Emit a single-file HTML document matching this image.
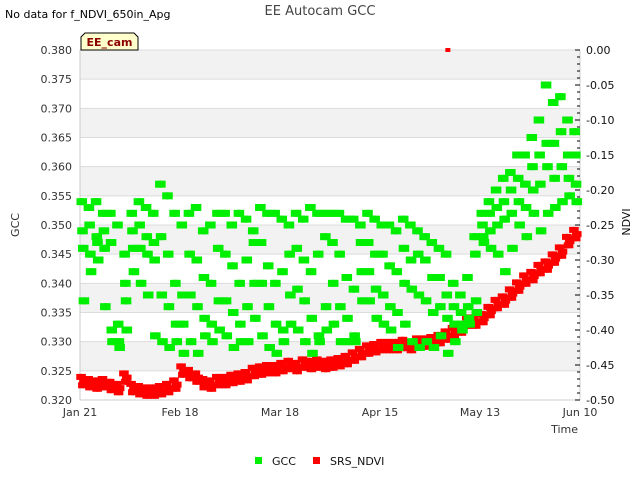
<!DOCTYPE html>
<html><head><meta charset="utf-8"><style>
body{margin:0;background:#fff;font-family:"Liberation Sans","DejaVu Sans",sans-serif;}
svg text{font-family:"DejaVu Sans","Liberation Sans",sans-serif;}
</style></head><body>
<svg id="c" width="640" height="480" xmlns="http://www.w3.org/2000/svg"></svg>
<script>
// data (2-day bins starting Jan 21)
const gccHi=[354,353,354,352,352,350,345,352,354,353,352,357,355,352,350,352,353,349,350,352,352,350,352,351,349,353,352,352,351,350,352,351,353,352,352,352,352,351,351,350,352,351,350,350,349,351,350,349,348,347,346,345,340,338,341,348,352,354,356,358,359,362,362,365,368,374,371,372,368,366];
const gccM1=[349,350,348,349,347,333,340,349,350,348,347,348,345,340,338,345,344,341,340,346,345,343,340,344,347,347,343,340,342,345,346,344,342,345,348,347,345,341,339,347,347,345,345,343,342,346,344,345,344,341,341,338,336,335,336,345,350,352,353,354,356,358,357,360,362,364,364,366,362,362];
const gccM2=[346,345,347,346,332,330,337,346,346,345,344,338,336,333,333,338,336,334,333,337,337,335,333,336,340,340,336,333,332,338,339,337,334,331,336,340,336,334,331,342,342,339,338,336,335,340,339,338,337,335,336,334,333,333,334,337,348,349,350,351,352,354,353,356,357,360,358,360,358,357];
const gccLo=[337,342,344,336,330,329,332,342,340,338,331,330,329,330,328,330,328,331,330,332,331,329,330,330,334,331,329,328,330,333,332,330,328,330,332,333,330,330,330,337,337,334,333,332,329,333,330,329,330,329,331,328,330,332,333,335,347,346,345,342,346,350,348,352,349,352,353,354,355,354];
const ndvi=[-0.475,-0.478,-0.48,-0.478,-0.482,-0.485,-0.47,-0.485,-0.488,-0.49,-0.49,-0.488,-0.485,-0.48,-0.46,-0.465,-0.47,-0.478,-0.48,-0.475,-0.475,-0.472,-0.47,-0.468,-0.462,-0.46,-0.458,-0.458,-0.455,-0.452,-0.455,-0.45,-0.452,-0.45,-0.452,-0.45,-0.448,-0.445,-0.44,-0.435,-0.43,-0.428,-0.425,-0.425,-0.425,-0.422,-0.425,-0.42,-0.42,-0.418,-0.415,-0.41,-0.405,-0.4,-0.39,-0.39,-0.385,-0.375,-0.365,-0.36,-0.35,-0.34,-0.33,-0.325,-0.315,-0.31,-0.3,-0.29,-0.275,-0.265];
const ndviOutDay=[103];const ndviOutVal=[0.0];
const xTickLabels=["Jan 21","Feb 18","Mar 18","Apr 15","May 13","Jun 10"];
const xTickDays=[0,28,56,84,112,140];
const yLeftTicks=[0.320,0.325,0.330,0.335,0.340,0.345,0.350,0.355,0.360,0.365,0.370,0.375,0.380];
const yRightTicks=[0,-0.05,-0.1,-0.15,-0.2,-0.25,-0.3,-0.35,-0.4,-0.45,-0.5];

const L=80,R=580,T=50,B=400;
const X=d=>L+d/140*(R-L);
const YL=v=>B-(v-0.32)/0.06*(B-T);
const YR=v=>B-(v+0.5)/0.5*(B-T);
const svg=document.getElementById('c');const NS='http://www.w3.org/2000/svg';
function add(tag,attrs,txt){const e=document.createElementNS(NS,tag);for(const k in attrs)e.setAttribute(k,attrs[k]);if(txt!==undefined)e.textContent=txt;svg.appendChild(e);return e;}
let e;
e=add('rect',{x:L,y:T,width:R-L,height:B-T,fill:'#fff'});


for(let i=0;i<6;i++){const v=0.33+i*0.01;
 e=add('rect',{x:L,y:YL(v),width:R-L,height:YL(v-0.005)-YL(v),fill:'#f2f2f2'});
 
 }
yLeftTicks.forEach(v=>{e=add('line',{x1:L,x2:R,y1:YL(v),y2:YL(v),stroke:'#dcdcdc','stroke-width':1});
 
 
 e=add('text',{x:72,y:YL(v)+4,'text-anchor':'end','font-size':11,fill:'#333'},v.toFixed(3));
 
 });
e=add('line',{x1:L,x2:L,y1:T,y2:B,stroke:'#ccc'});


e=add('line',{x1:L,x2:R,y1:B,y2:B,stroke:'#ccc'});


e=add('line',{x1:R,x2:R,y1:T,y2:B,stroke:'#ccc'});


for(let i=0;i<=50;i++){const v=-i*0.01;const maj=i%5===0;
 e=add('line',{x1:maj?R-5:R-3,x2:R,y1:YR(v),y2:YR(v),stroke:'#000'});
 
 }
yRightTicks.forEach(v=>{e=add('text',{x:586,y:YR(v)+4,'font-size':11,fill:'#111'},v.toFixed(2));
 
 });
xTickDays.forEach((d,i)=>{e=add('text',{x:X(d),y:416,'text-anchor':'middle','font-size':11,fill:'#333'},xTickLabels[i]);
 
 });
// NDVI points (each bin covers two days)
ndvi.forEach((v,i)=>{[0,1].forEach(dd=>{[[-0.2,0.008],[0.3,-0.004],[0.6,0.002]].forEach(o=>{
 e=add('rect',{x:X(2*i+dd+o[0])-3,y:YR(v+o[1])-3,width:6,height:6,fill:'#ff0000'});
 
 });});});
ndviOutDay.forEach((d,i)=>{e=add('rect',{x:X(d)-2.5,y:YR(ndviOutVal[i])-2,width:5,height:4,fill:'#ff0000'});
 
 });
// GCC points (each bin covers two days)
[gccHi,gccM1,gccM2,gccLo].forEach((arr,k)=>{arr.forEach((v,i)=>{[0,1].forEach(dd=>{
 e=add('rect',{x:X(2*i+dd+k*0.2)-3.5,y:YL(v/1000)-3.5,width:7,height:7,fill:'#00ee00'});
 
 });});});
// titles
e=add('text',{x:320,y:15,'text-anchor':'middle','font-size':13,fill:'#444'},'EE Autocam GCC');


e=add('text',{x:5,y:18,'font-size':11,fill:'#000'},'No data for f_NDVI_650in_Apg');


e=add('text',{x:578,y:433,'text-anchor':'end','font-size':11,fill:'#333'},'Time');


e=add('text',{x:19,y:225,'text-anchor':'middle','font-size':11,fill:'#333',transform:'rotate(-90 19 225)'},'GCC');


e=add('text',{x:630,y:222,'text-anchor':'middle','font-size':11,fill:'#111',transform:'rotate(-90 630 222)'},'NDVI');


e=add('path',{d:'M81,50 L81,37 L85,33 L134,33 L138,37 L138,50 Z',fill:'#ffffcc',stroke:'#000','stroke-width':1});


e=add('text',{x:109.5,y:46,'text-anchor':'middle','font-size':11,'font-weight':'bold',fill:'#8b0000'},'EE_cam');


// legend
e=add('rect',{x:255,y:457,width:7,height:7,fill:'#00ee00'});


e=add('text',{x:272,y:465,'font-size':11,fill:'#111'},'GCC');


e=add('rect',{x:313,y:457,width:7,height:7,fill:'#ff0000'});


e=add('text',{x:330,y:465,'font-size':11,fill:'#111'},'SRS_NDVI');


</script>
</body></html>
